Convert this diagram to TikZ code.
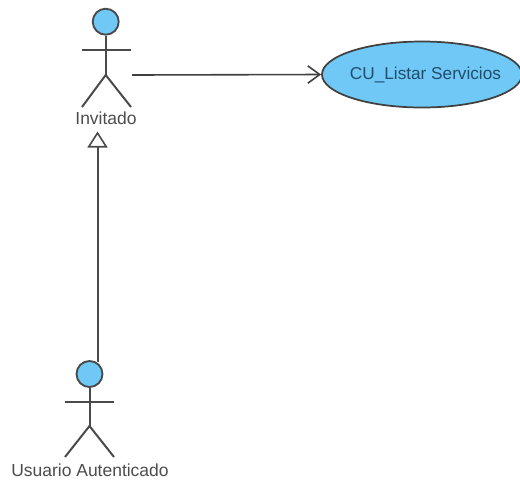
\documentclass[tikz,border=0pt]{standalone}
\usepackage{fontspec}
\setmainfont{Liberation Sans}
\usetikzlibrary{shapes.geometric,arrows.meta}
\definecolor{fillblue}{HTML}{6FC8F5}
\definecolor{linegrey}{HTML}{4A4A4A}
\definecolor{textblue}{HTML}{1F4E6E}
\tikzset{
  x=0.75pt,y=-0.75pt,
  headnode/.style={circle,draw=linegrey,fill=fillblue,line width=1.4pt,minimum size=19.5pt,inner sep=0pt},
  limb/.style={draw=linegrey,line width=1.5pt},
  actorlabel/.style={text=black!70,font=\fontsize{13.1pt}{15pt}\selectfont,inner sep=0pt},
  usecase/.style={ellipse,draw=black!75,fill=fillblue,line width=1.3pt,minimum width=150pt,minimum height=49.5pt,inner sep=0pt},
  usecasetext/.style={text=textblue,inner sep=0pt,font=\fontsize{12.9pt}{15pt}\selectfont},
  assoc/.style={draw=black!75,line width=1.2pt,-{Straight Barb[length=9pt,width=13pt,line width=1.2pt]}},
  general/.style={draw=linegrey,line width=1.5pt,-{Triangle[open,length=12pt,width=15pt,fill=white,line width=1.2pt]}}
}
\begin{document}
\begin{tikzpicture}
\useasboundingbox (0,0) rectangle (520,480);
% Invitado
\node[headnode] (headA) at (105.7,21.7) {};
\coordinate (hipA) at (105.7,75);
\coordinate (armLA) at (82,50);
\coordinate (armRA) at (131,50);
\coordinate (footLA) at (82,107);
\coordinate (footRA) at (131,107);
\draw[limb] (headA.south) -- (hipA);
\draw[limb] (armLA) -- (armRA);
\draw[limb] (footLA) -- (hipA) -- (footRA);
\node[actorlabel] (labelA) at (106,118.5) {Invitado};
% Usuario Autenticado
\node[headnode] (headB) at (89.5,374) {};
\coordinate (hipB) at (89.5,426);
\coordinate (armLB) at (65,402);
\coordinate (armRB) at (114,402);
\coordinate (footLB) at (65,457);
\coordinate (footRB) at (114,457);
\draw[limb] (headB.south) -- (hipB);
\draw[limb] (armLB) -- (armRB);
\draw[limb] (footLB) -- (hipB) -- (footRB);
\node[actorlabel] (labelB) at (90,470.5) {Usuario Autenticado};
% Use case
\node[usecase] (uc) at (422,74.5) {};
\node[usecasetext] (uctext) at (425.5,74.5) {CU\_Listar Servicios};
% Connectors
\coordinate (assocStart) at (132,75);
\draw[assoc] (assocStart) -- (uc.west);
\coordinate (genStart) at (97.5,362);
\coordinate (genEnd) at (97.5,131.5);
\draw[general] (genStart) -- (genEnd);
\end{tikzpicture}
\end{document}
